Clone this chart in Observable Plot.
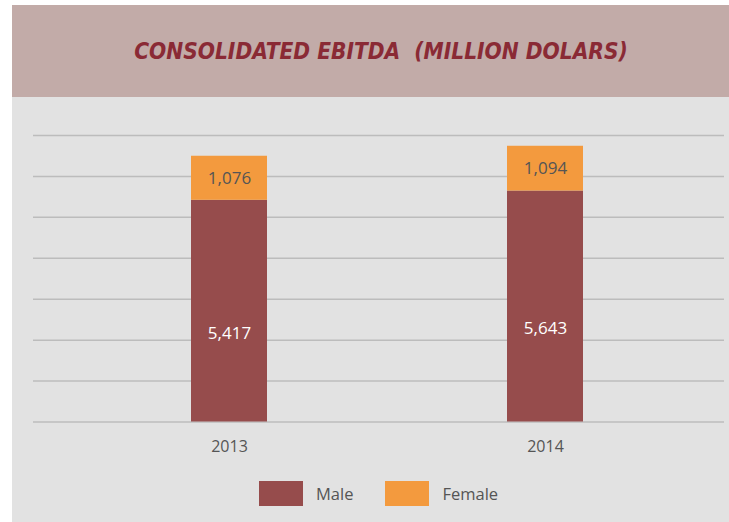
<!DOCTYPE html>
<html>
<head>
<meta charset="utf-8">
<script src="https://cdn.jsdelivr.net/npm/d3@7"></script>
<script src="https://cdn.jsdelivr.net/npm/@observablehq/plot@0.6"></script>
<style>
  html, body { margin: 0; padding: 0; background: #fff; overflow: hidden; }
  #wrap { position: absolute; left: 12px; top: 5px; width: 717px; height: 517px; background: #e2e2e2; }
  #title { height: 92px; background: #c2aba8; display: flex; align-items: center; justify-content: center;
    padding-left: 21px; box-sizing: border-box;
    font-family: "DejaVu Sans Condensed", "Liberation Sans Narrow", sans-serif; font-stretch: condensed;
    font-weight: bold; font-style: italic; font-size: 22.5px; color: #8a2a35; letter-spacing: 0px; }
  #chart svg { display: block; }
  #legend { position: absolute; left: 247px; top: 476px; display: flex; align-items: center;
    font-family: "Open Sans", sans-serif; font-size: 16.5px; color: #555; }
  .sw { width: 44px; height: 25px; margin-right: 13px; }
  .item { display: flex; align-items: center; margin-right: 32px; }
</style>
</head>
<body>
<div id="wrap">
  <div id="title">CONSOLIDATED EBITDA&nbsp;&nbsp;(MILLION DOLARS)</div>
  <div id="chart"></div>
  <div id="legend"></div>
</div>
<script>
const years = ["2013", "2014"];
const male = [5417, 5643];
const female = [1076, 1094];
const genders = ["Male", "Female"];
const colors = ["#964c4c", "#f39a3e"];
const gridTicks = [0, 1000, 2000, 3000, 4000, 5000, 6000, 7000];

const rows = years.flatMap((yr, i) => [
  {year: yr, gender: "Male", value: male[i]},
  {year: yr, gender: "Female", value: female[i]}
]);
const fmt = d3.format(",");

const chart = Plot.plot({
  width: 717,
  height: 370,
  marginLeft: 21,
  marginRight: 5,
  marginTop: 38,
  marginBottom: 45.5,
  style: {background: "transparent", fontFamily: "'Open Sans', sans-serif", fontSize: "15px", color: "#555"},
  x: {domain: years, range: [38, 712], paddingInner: 0.7595, paddingOuter: 0.446, label: null},
  y: {domain: [0, 7000], label: null},
  color: {domain: genders, range: colors},
  marks: [
    Plot.ruleY(gridTicks, {stroke: "#bcbcbc", strokeWidth: 1.5}),
    Plot.barY(rows, {x: "year", y: "value", fill: "gender"}),
    Plot.text(rows, Plot.stackY({x: "year", y: "value",
      text: d => d.gender === "Female" ? fmt(d.value) : null,
      fill: "#555", fontSize: 17})),
    Plot.text(rows, Plot.stackY({x: "year", y: "value",
      text: d => d.gender === "Male" ? fmt(d.value) : null,
      fill: "#fff", fontSize: 17, dy: 22})),
    Plot.axisX({tickSize: 0, tickPadding: 19, fontSize: 16, fill: "#555"}),
    Plot.axisY({ticks: [], label: null, tickSize: 0})
  ]
});
document.getElementById("chart").appendChild(chart);

const legend = document.getElementById("legend");
genders.forEach((g, i) => {
  const item = document.createElement("div");
  item.className = "item";
  const sw = document.createElement("div");
  sw.className = "sw";
  sw.style.background = colors[i];
  const lab = document.createElement("span");
  lab.textContent = g;
  item.appendChild(sw);
  item.appendChild(lab);
  legend.appendChild(item);
});
</script>
</body>
</html>
